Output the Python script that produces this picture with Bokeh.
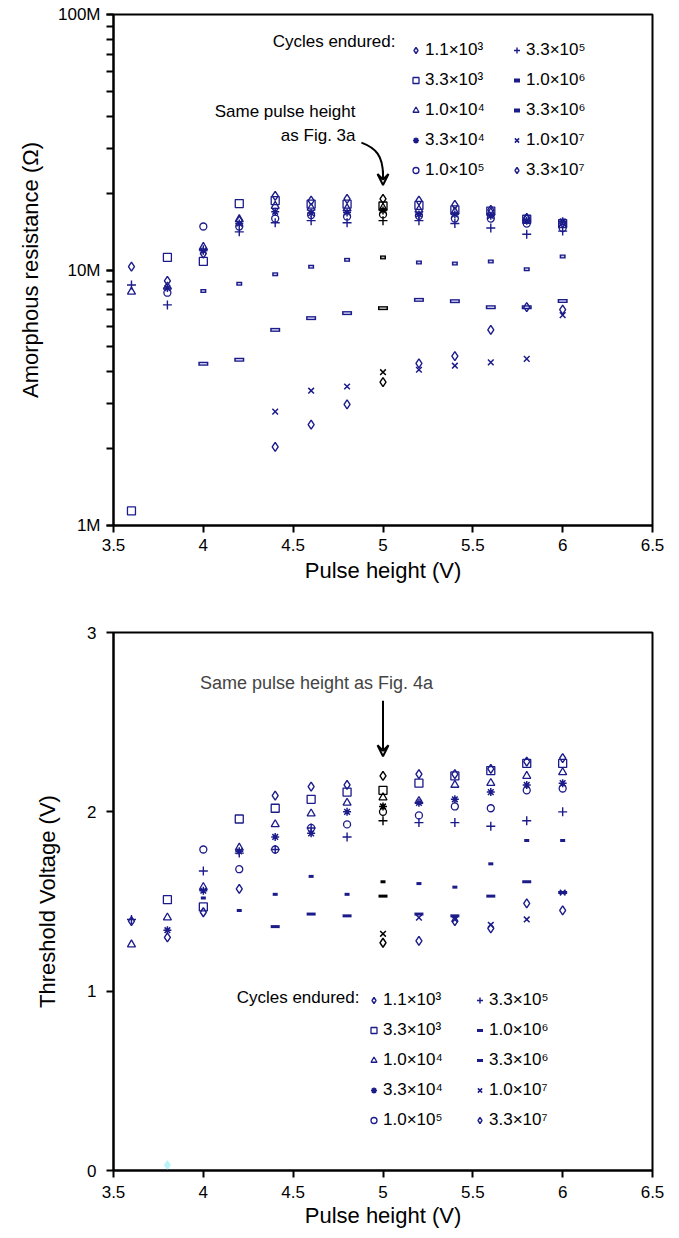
import numpy as np
from bokeh.plotting import figure
from bokeh.models import (Range1d, Legend, LegendItem, Label, FixedTicker, LogTicker,
                          Arrow, VeeHead)
from bokeh.layouts import column
from bokeh.embed import file_html
from bokeh.resources import INLINE

nan = float("nan")

# ---------------- data ----------------
pulse_height = [3.6, 3.8, 4.0, 4.2, 4.4, 4.6, 4.8, 5.0, 5.2, 5.4, 5.6, 5.8, 6.0]
cycle_labels = ["1.1×10³", "3.3×10³", "1.0×10⁴", "3.3×10⁴", "1.0×10⁵",
                "3.3×10⁵", "1.0×10⁶", "3.3×10⁶", "1.0×10⁷", "3.3×10⁷"]

# (a) amorphous resistance, MOhm
res_1_1e3 = [10.3, 9.06, 11.6, 15.6, 19.5, 18.7, 19.0, 19.0, 18.7, 18.0, 17.2, 16.0, 15.3]
res_3_3e3 = [1.14, 11.2, 10.8, 18.2, 18.7, 18.1, 18.1, 17.8, 17.9, 17.2, 17.0, 15.8, 15.2]
res_1_0e4 = [8.22, 8.6, 12.3, 15.8, 17.8, 17.5, 17.4, 17.5, 17.2, 16.9, 16.8, 15.9, 15.0]
res_3_3e4 = [nan, 8.5, 11.9, 15.2, 16.9, 16.7, 16.8, 17.1, 16.5, 16.5, 16.3, 15.6, 15.5]
res_1_0e5 = [nan, 8.15, 14.8, 14.8, 15.9, 16.4, 16.2, 16.5, 16.3, 15.9, 15.9, 15.2, 14.6]
res_3_3e5 = [8.73, 7.3, 12.0, 14.1, 15.3, 15.6, 15.3, 15.6, 15.6, 15.2, 14.6, 13.8, 14.2]
res_1_0e6 = [nan, nan, 8.27, 8.83, 9.62, 10.3, 10.96, 11.2, 10.7, 10.6, 10.8, 10.06, 11.3]
res_3_3e6 = [nan, nan, 4.3, 4.45, 5.83, 6.48, 6.78, 7.09, 7.64, 7.55, 7.15, 7.15, 7.57]
res_1_0e7 = [nan, nan, nan, nan, 2.79, 3.37, 3.5, 3.98, 4.07, 4.22, 4.35, 4.49, 6.66]
res_3_3e7 = [nan, nan, nan, nan, 2.03, 2.48, 2.98, 3.64, 4.31, 4.6, 5.83, 7.15, 6.99]

# (b) threshold voltage, V
vth_1_1e3 = [1.39, 1.30, 1.44, 1.57, 2.09, 2.14, 2.15, 2.20, 2.21, 2.21, 2.24, 2.28, 2.30]
vth_3_3e3 = [nan, 1.51, 1.47, 1.96, 2.02, 2.07, 2.11, 2.12, 2.16, 2.20, 2.23, 2.27, 2.27]
vth_1_0e4 = [1.26, 1.41, 1.58, 1.80, 1.93, 1.99, 2.05, 2.08, 2.06, 2.15, 2.16, 2.20, 2.22]
vth_3_3e4 = [nan, 1.34, 1.56, 1.78, 1.86, 1.88, 2.00, 2.03, 2.05, 2.07, 2.11, 2.15, 2.16]
vth_1_0e5 = [nan, nan, 1.79, 1.68, 1.79, 1.91, 1.93, 2.00, 1.98, 2.03, 2.02, 2.12, 2.13]
vth_3_3e5 = [1.40, nan, 1.67, 1.77, 1.79, 1.91, 1.86, 1.95, 1.94, 1.94, 1.92, 1.95, 2.00]
vth_1_0e6 = [nan, nan, 1.52, 1.45, 1.54, 1.64, 1.54, 1.61, 1.60, 1.58, 1.71, 1.84, 1.84]
vth_3_3e6 = [nan, nan, nan, nan, 1.36, 1.43, 1.42, 1.53, 1.43, 1.42, 1.53, 1.61, 1.55]
vth_1_0e7 = [nan, nan, nan, nan, nan, nan, nan, 1.32, 1.41, 1.40, 1.37, 1.40, 1.55]
vth_3_3e7 = [nan, nan, nan, nan, nan, nan, nan, 1.27, 1.28, 1.39, 1.35, 1.49, 1.45]
stray_x = [3.8]
stray_v = [0.03]

x_ticks = [3.5, 4.0, 4.5, 5.0, 5.5, 6.0, 6.5]
x_tick_labels = ["3.5", "4", "4.5", "5", "5.5", "6", "6.5"]
res_ticks = [1e6, 1e7, 1e8]
res_tick_labels = ["1M", "10M", "100M"]
vth_ticks = [0, 1, 2, 3]

NAVY = "#1b1b8a"
FONT = "Liberation Sans"

# marker spec per series: (marker, size, line_width)
marker_specs = [("diamond", 9, 1.4), ("square", 8, 1.3), ("triangle", 8, 1.3),
                ("asterisk", 8, 1.5), ("circle", 7, 1.3), ("cross", 9, 1.4),
                ("dash", 6, 4), ("dash", 10, 4), ("x", 8, 1.5), ("diamond", 9, 1.4)]


def style_axes(p):
    for ax in (p.xaxis[0], p.yaxis[0]):
        ax.axis_line_width = 2
        ax.axis_line_color = "black"
        ax.major_tick_line_width = 2
        ax.major_tick_line_color = "black"
        ax.major_tick_out = 7
        ax.major_tick_in = 0
        ax.minor_tick_line_width = 2
        ax.minor_tick_out = 7
        ax.minor_tick_in = 0
        ax.major_label_text_font = FONT
        ax.major_label_text_font_size = "17px"
        ax.major_label_text_color = "black"
        ax.axis_label_text_font = FONT
        ax.axis_label_text_font_size = "22px"
        ax.axis_label_text_font_style = "normal"
        ax.axis_label_text_color = "black"
    p.xgrid.visible = False
    p.ygrid.visible = False
    p.outline_line_color = "black"
    p.outline_line_width = 2
    p.outline_line_alpha = 1
    p.background_fill_color = "white"
    p.border_fill_color = "white"
    p.xaxis.ticker = FixedTicker(ticks=x_ticks)
    p.xaxis.major_label_overrides = {t: l for t, l in zip(x_ticks, x_tick_labels)}
    p.xaxis.minor_tick_line_color = None


def add_series(p, ys, spec, scale=1.0, dash_inner=False):
    xs = np.array(pulse_height)
    ys = np.array(ys, dtype=float) * scale
    ok = ~np.isnan(ys)
    blk = ok & np.isclose(xs, 5.0)
    nav = ok & ~blk
    marker, size, lw = spec
    r = p.scatter(xs[nav], ys[nav], marker=marker, size=size, line_color=NAVY,
                  fill_color=None, line_width=lw, line_cap="butt")
    p.scatter(xs[blk], ys[blk], marker=marker, size=size, line_color="black",
              fill_color=None, line_width=lw, line_cap="butt")
    if dash_inner and marker == "dash":
        p.scatter(xs[nav], ys[nav], marker="dash", size=size - 3, line_color="#c8c8ec",
                  line_width=1.5, line_cap="butt")
        p.scatter(xs[blk], ys[blk], marker="dash", size=size - 3, line_color="#bbbbbb",
                  line_width=1.5, line_cap="butt")
    return r


def make_legends(p, renderers, x0, y0, col_gap):
    for c in range(2):
        items = [LegendItem(label=cycle_labels[i], renderers=[renderers[i]])
                 for i in range(c * 5, c * 5 + 5)]
        leg = Legend(items=items, location=(x0 + c * col_gap, y0), orientation="vertical",
                     border_line_color=None, background_fill_alpha=0, padding=0, margin=0,
                     spacing=10, glyph_width=15, glyph_height=20, label_height=20,
                     label_standoff=2, label_text_font=FONT, label_text_font_size="17px",
                     label_text_color="black")
        p.add_layout(leg)


def screen_label(p, x, y, text, align="left", size="17px"):
    p.add_layout(Label(x=x, y=y, x_units="screen", y_units="screen", text=text,
                       text_align=align, text_baseline="middle", text_font=FONT,
                       text_font_size=size, text_color="black"))


# ---------------- (a) ----------------
p1 = figure(width=679, height=585, y_axis_type="log", output_backend="svg",
            toolbar_location=None, x_range=Range1d(3.5, 6.5), y_range=Range1d(1e6, 1e8),
            min_border_left=113, min_border_right=27, min_border_top=14, min_border_bottom=53)
style_axes(p1)
p1.yaxis.ticker = LogTicker(mantissas=[1], num_minor_ticks=10)
p1.yaxis.major_label_overrides = {t: l for t, l in zip(res_ticks, res_tick_labels)}
p1.xaxis.axis_label = "Pulse height (V)"
p1.yaxis.axis_label = "Amorphous resistance (Ω)"
p1.xaxis.major_label_standoff = 6
p1.xaxis.axis_label_standoff = 4
p1.yaxis.major_label_standoff = 6
p1.yaxis.axis_label_standoff = 12

res_series = [res_1_1e3, res_3_3e3, res_1_0e4, res_3_3e4, res_1_0e5,
              res_3_3e5, res_1_0e6, res_3_3e6, res_1_0e7, res_3_3e7]
rend1 = [add_series(p1, s, marker_specs[i], scale=1e6, dash_inner=True)
         for i, s in enumerate(res_series)]
make_legends(p1, rend1, 295, 345, 101)
screen_label(p1, 282, 484, "Cycles endured:", align="right")
screen_label(p1, 242, 414, "Same pulse height", align="right")
screen_label(p1, 242, 390, "as Fig. 3a", align="right")
p1.bezier(x0=[4.88], y0=[3.15e7], x1=[5.0], y1=[2.35e7], cx0=[4.96], cy0=[3.0e7],
          cx1=[5.0], cy1=[2.8e7], line_color="black", line_width=2)
p1.add_layout(Arrow(end=VeeHead(size=11, line_width=2, fill_color=None, line_color="black"),
                    x_start=5.0, y_start=2.45e7, x_end=5.0, y_end=2.15e7,
                    line_width=2, line_color="black"))
screen_label(p1, -108, -16, "(a)")

# ---------------- (b) ----------------
p2 = figure(width=679, height=653, output_backend="svg", toolbar_location=None,
            x_range=Range1d(3.5, 6.5), y_range=Range1d(0, 3),
            min_border_left=104, min_border_right=24, min_border_top=47, min_border_bottom=68)
style_axes(p2)
p2.yaxis.ticker = FixedTicker(ticks=vth_ticks)
p2.yaxis.minor_tick_line_color = None
p2.xaxis.axis_label = "Pulse height (V)"
p2.yaxis.axis_label = "Threshold Voltage (V)"
p2.xaxis.major_label_standoff = 8
p2.xaxis.axis_label_standoff = 2
p2.yaxis.major_label_standoff = 10
p2.yaxis.axis_label_standoff = 24

vth_series = [vth_1_1e3, vth_3_3e3, vth_1_0e4, vth_3_3e4, vth_1_0e5,
              vth_3_3e5, vth_1_0e6, vth_3_3e6, vth_1_0e7, vth_3_3e7]
specs_b = [s if s[0] != "dash" else (s[0], s[1] - 1, 3) for s in marker_specs]
rend2 = [add_series(p2, s, specs_b[i]) for i, s in enumerate(vth_series)]
p2.scatter(stray_x, stray_v, marker="diamond", size=9, fill_color="#b8f4fa",
           line_color="#b8f4fa")
make_legends(p2, rend2, 253, 40, 106)
screen_label(p2, 246, 173, "Cycles endured:", align="right")
p2.add_layout(Label(x=4.63, y=2.66, text="Same pulse height as Fig. 4a", text_align="center",
                    text_baseline="bottom", text_font=FONT, text_font_size="18px"))
p2.add_layout(Arrow(end=VeeHead(size=11, line_width=2, fill_color=None, line_color="black"),
                    x_start=5.0, y_start=2.62, x_end=5.0, y_end=2.31,
                    line_width=2, line_color="black"))
screen_label(p2, -99, -43, "(b)")

layout = column(p1, p2)
open("out.html", "w").write(file_html(layout, INLINE))
